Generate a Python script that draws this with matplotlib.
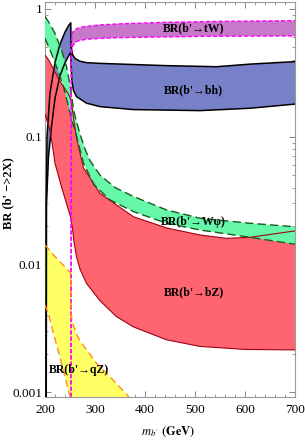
import numpy as np
import matplotlib
matplotlib.use("Agg")
import matplotlib.pyplot as plt
from matplotlib.ticker import FixedLocator, NullFormatter

plt.rcParams['font.family'] = ['Liberation Serif', 'DejaVu Serif']
plt.rcParams['mathtext.fontset'] = 'stix'

# -----------------------------
# DATA
# -----------------------------
YMIN, YMAX = 0.000916, 1.134

# BR(b' -> bZ), red band
bz_m_up = [200, 207, 220, 233, 247, 252, 257, 263, 277, 310, 377, 443, 510, 563, 610, 700]
bz_up = [0.436, 0.40, 0.32, 0.26, 0.215, 0.194, 0.14, 0.098, 0.057, 0.036, 0.0236, 0.0193, 0.017, 0.016, 0.0163, 0.0183]
bz_m_lo = [200, 205, 210, 215, 220, 233, 243, 251, 255, 258, 263, 270, 283, 310, 343, 377, 443, 510, 600, 700]
bz_lo = [0.152, 0.13, 0.113, 0.085, 0.062, 0.0405, 0.030, 0.0236, 0.019, 0.015, 0.0115, 0.0092, 0.0071,
         0.0052, 0.0039, 0.00324, 0.00257, 0.00228, 0.00216, 0.00214]

# BR(b' -> W phi), green band
wp_m_up = [200, 207, 220, 233, 243, 250, 257, 260, 270, 280, 290, 310, 340, 377, 443, 510, 610, 700]
wp_up = [0.87, 0.795, 0.645, 0.477, 0.354, 0.255, 0.165, 0.145, 0.105, 0.08, 0.065, 0.05, 0.04, 0.034,
         0.0267, 0.023, 0.021, 0.0197]
wp_m_lo = [200, 210, 223, 237, 247, 253, 260, 268, 277, 298, 330, 377, 443, 510, 610, 700]
wp_lo = [0.589, 0.477, 0.354, 0.246, 0.172, 0.135, 0.113, 0.085, 0.062, 0.042, 0.032, 0.0259, 0.021,
         0.0186, 0.0163, 0.0144]

# BR(b' -> bh), blue band
bh_m_up = [202, 202.5, 204, 210, 220, 230, 240, 247, 251.5, 252.3, 255, 260, 270, 283, 310, 443, 543, 610, 700]
bh_up = [YMIN, 0.03, 0.1, 0.22, 0.38, 0.53, 0.66, 0.74, 0.78, 0.5, 0.44, 0.41, 0.39, 0.38, 0.375, 0.36,
         0.353, 0.37, 0.387]
bh_m_lo = [202.5, 203, 207, 213, 220, 230, 240, 251.5, 252.5, 253.5, 257, 263, 283, 310, 377, 510, 610, 700]
bh_lo = [YMIN, 0.03, 0.07, 0.12, 0.2, 0.3, 0.38, 0.46, 0.35, 0.277, 0.23, 0.206, 0.183, 0.172, 0.163,
         0.16, 0.167, 0.18]

# BR(b' -> tW), violet band
tw_m_up = [252, 252.5, 254, 256, 263, 277, 310, 343, 443, 550, 700]
tw_up = [YMIN, 0.5, 0.62, 0.664, 0.70, 0.727, 0.75, 0.763, 0.787, 0.80, 0.81]
tw_m_lo = [252, 252.8, 256, 260, 264, 283, 343, 510, 700]
tw_lo = [YMIN, 0.45, 0.52, 0.54, 0.56, 0.58, 0.596, 0.61, 0.615]

# BR(b' -> qZ), yellow band
qz_m_up = [200, 220, 250, 252, 252.3, 256, 262, 270, 283, 303, 330, 363, 368]
qz_up = [0.0142, 0.0115, 0.0087, 0.0084, 0.004, 0.0034, 0.0029, 0.0025, 0.00215, 0.00168, 0.00132,
         0.00096, YMIN]
qz_m_lo = [200, 207, 217, 230, 240, 249, 250.5]
qz_lo = [0.0048, 0.0041, 0.00286, 0.00188, 0.00132, 0.00095, YMIN]

labels = ["BR(b'→tW)", "BR(b'→bh)", "BR(b'→Wφ)", "BR(b'→bZ)", "BR(b'→qZ)"]
label_m = [498, 497, 497, 497, 268]
label_br = [0.71, 0.232, 0.0216, 0.0061, 0.0015]

x_ticks = [200, 300, 400, 500, 600, 700]
y_ticks = [0.001, 0.01, 0.1, 1]
y_ticklabels = ["0.001", "0.01", "0.1", "1"]


def band(ax, m_up, up, m_lo, lo, fc, ec, ls, lw, z):
    xs = list(m_up) + list(m_lo)[::-1]
    ys = list(up) + list(lo)[::-1]
    ax.fill(xs, ys, color=fc, lw=0, zorder=z)
    ax.plot(m_up, up, color=ec, ls=ls, lw=lw, zorder=10, solid_capstyle='butt')
    ax.plot(m_lo, lo, color=ec, ls=ls, lw=lw, zorder=10, solid_capstyle='butt')


fig = plt.figure(figsize=(3.05, 4.42), dpi=100)
ax = fig.add_axes([45 / 305, 1 - 397 / 442, 250 / 305, 395 / 442])

band(ax, bh_m_up, bh_up, bh_m_lo, bh_lo, "#7880c8", "black", "-", 1.1, 1)
band(ax, bz_m_up, bz_up, bz_m_lo, bz_lo, "#ff6570", "#a00010", "-", 0.8, 2)
band(ax, wp_m_up, wp_up, wp_m_lo, wp_lo, "#66f7aa", "#1a5a1a", (0, (6, 3)), 1.0, 3)
band(ax, tw_m_up, tw_up, tw_m_lo, tw_lo, "#c878c8", "#ff00ff", (0, (3, 1.5)), 1.0, 4)
band(ax, qz_m_up, qz_up, qz_m_lo, qz_lo, "#ffff66", "#ff8c1a", (0, (5, 3)), 1.0, 5)

for txt, xm, yb in zip(labels, label_m, label_br):
    ax.text(xm, yb, txt, ha='center', va='center', fontsize=8.5, fontweight='bold', zorder=20)

ax.set_yscale('log')
ax.set_xlim(200, 700)
ax.set_ylim(YMIN, YMAX)

ax.set_xticks(x_ticks)
ax.set_xticklabels([str(t) for t in x_ticks])
ax.xaxis.set_minor_locator(FixedLocator(np.arange(200, 701, 20)))
ax.set_yticks(y_ticks)
ax.set_yticklabels(y_ticklabels)
ax.yaxis.set_minor_locator(FixedLocator([k * 10.0 ** e for e in range(-3, 0) for k in range(2, 10)]))
ax.yaxis.set_minor_formatter(NullFormatter())

ax.tick_params(which='both', direction='in', top=True, right=True, color='#888888', labelsize=9.5)
ax.tick_params(which='major', length=4, width=0.7)
ax.tick_params(which='minor', length=2.2, width=0.6)
ax.tick_params(axis='x', pad=5)
ax.tick_params(axis='y', pad=2)
for s in ax.spines.values():
    s.set_color('#999999')
    s.set_linewidth(0.8)

fig.text(8 / 305, 1 - 193 / 442, "BR (b' −>2X)", rotation=90, ha='center', va='center',
         fontsize=9, fontweight='bold')
fig.text(168 / 305, 1 - 432 / 442, r"$m_{b'}$ $\mathbf{(GeV)}$", ha='center', va='center', fontsize=9)

fig.savefig("out.png", dpi=100)
